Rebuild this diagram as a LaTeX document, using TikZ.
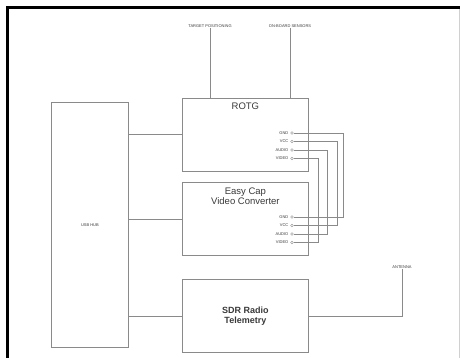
\documentclass[tikz,border=0pt]{standalone}
\usepackage{fontspec}
\setmainfont{Liberation Sans}
\usetikzlibrary{positioning,calc}
\definecolor{lineGray}{HTML}{8A8A8A}
\definecolor{textGray}{HTML}{3A3A3A}
\begin{document}
\begin{tikzpicture}[x=1pt,y=-1pt,
  unit/.style={draw=lineGray,line width=0.8pt,fill=white,anchor=north west,inner sep=0pt},
  unittitle/.style={font=\fontsize{9.5}{10}\selectfont,text=textGray,align=center,inner sep=1pt},
  tinylbl/.style={font=\fontsize{4}{4.5}\selectfont,text=textGray,inner sep=0.5pt},
  jack/.style={draw=lineGray,circle,line width=0.4pt,minimum size=2.6pt,inner sep=0pt},
  wire/.style={draw=lineGray,line width=0.6pt}]
  \useasboundingbox (0,0) rectangle (460,358);
  % frame
  \draw[line width=3pt] (7.5,358) -- (7.5,7.5) -- (460,7.5);
  \draw[lineGray!40,line width=0.5pt] (459.5,9) -- (459.5,358);
  % boxes
  \node[unit,minimum width=77pt,minimum height=245pt] (hub) at (51,102) {};
  \node[tinylbl] (hubname) at (hub.center) {USB HUB};
  \node[unit,minimum width=126pt,minimum height=73pt] (rotg) at (182,98) {};
  \node[unittitle,below=4pt of rotg.north] (rotgname) {ROTG};
  \node[unit,minimum width=126pt,minimum height=73pt] (easycap) at (182,182) {};
  \node[unittitle,below=5pt of easycap.north] (easycapname) {Easy Cap\\Video Converter};
  \node[unit,minimum width=126pt,minimum height=73pt] (sdr) at (182,279) {};
  \node[unittitle,font=\bfseries\fontsize{9}{10}\selectfont] (sdrname) at (sdr.center) {SDR Radio\\Telemetry};
  % top inputs
  \node[tinylbl] (target) at (210,26) {TARGET POSITIONING};
  \node[tinylbl] (onboard) at (290,26) {ON-BOARD SENSORS};
  \node[tinylbl] (antenna) at (402,267) {ANTENNA};
  % ROTG ports
  \node[jack] (rgndj) at (292,133) {};
  \node[jack] (rvccj) at (292,141.5) {};
  \node[jack] (raudioj) at (292,150) {};
  \node[jack] (rvideoj) at (292,158.5) {};
  \node[tinylbl,left=1.5pt of rgndj] (rgnd) {GND};
  \node[tinylbl,left=1.5pt of rvccj] (rvcc) {VCC};
  \node[tinylbl,left=1.5pt of raudioj] (raudio) {AUDIO};
  \node[tinylbl,left=1.5pt of rvideoj] (rvideo) {VIDEO};
  % Easy Cap ports
  \node[jack] (egndj) at (292,217) {};
  \node[jack] (evccj) at (292,225.5) {};
  \node[jack] (eaudioj) at (292,234) {};
  \node[jack] (evideoj) at (292,242.5) {};
  \node[tinylbl,left=1.5pt of egndj] (egnd) {GND};
  \node[tinylbl,left=1.5pt of evccj] (evcc) {VCC};
  \node[tinylbl,left=1.5pt of eaudioj] (eaudio) {AUDIO};
  \node[tinylbl,left=1.5pt of evideoj] (evideo) {VIDEO};
  % connections
  \draw[wire] (target) -- (target |- rotg.north);
  \draw[wire] (onboard) -- (onboard |- rotg.north);
  \draw[wire] (hub.east |- 0,134) -- (rotg.west |- 0,134);
  \draw[wire] (hub.east |- easycap.west) -- (easycap.west);
  \draw[wire] (hub.east |- sdr.west) -- (sdr.west);
  \draw[wire] (sdr.east) -| (antenna);
  \draw[wire] (rgndj.east) -| ++(50,0) |- (egndj.east);
  \draw[wire] (rvccj.east) -| ++(44,0) |- (evccj.east);
  \draw[wire] (raudioj.east) -| ++(34,0) |- (eaudioj.east);
  \draw[wire] (rvideoj.east) -| ++(25,0) |- (evideoj.east);
\end{tikzpicture}
\end{document}
